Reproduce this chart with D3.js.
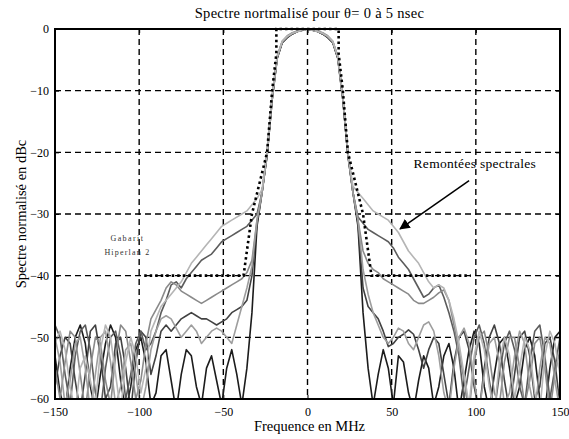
<!DOCTYPE html>
<html>
<head>
<meta charset="utf-8">
<script src="https://cdn.jsdelivr.net/npm/d3@7/dist/d3.min.js"></script>
<style>
body { margin: 0; background: #fff; }
svg { font-family: "Liberation Serif", "DejaVu Serif", serif; }
.grid line { stroke: #000; stroke-width: 1.4px; stroke-dasharray: 6,4; }
.axis path { display: none; }
.axis line { stroke: #000; }
.axis text { font-size: 12px; fill: #000; font-family: "Liberation Serif", serif; }
</style>
</head>
<body>
<div id="chart"></div>
<script>
// sample frequencies (MHz), one every 3 MHz
var freqs = d3.range(-150, 151, 3);
var xTicks = [-150, -100, -50, 0, 50, 100, 150];
var yTicks = [0, -10, -20, -30, -40, -50, -60];

// spectra for theta = 0..5 nsec, dBc
var spectrumA = [-51,-49,-52,-58,-62,-55,-53,-57,-61,-52,-48,-50,-56,-62,-54,-50,-53,-59,-55,-49,
  -47,-45,-44,-43,-42,-41,-39.5,-38,-37,-36,-35,-34,-33,-32,-31.5,-31,-30.5,-30,-29.5,-28.5,
  -27.5,-26,-20,-11,-4.5,-2,-1.2,-0.7,-0.4,-0.2,0,-0.2,-0.4,-0.7,-1.2,-2,-4.5,-11,-20,-25.5,
  -26.5,-27.5,-28.5,-29.5,-30,-30.5,-31,-32,-33,-34.5,-36,-37,-38,-39.5,-41,-42,-41.5,-42,-44,-47,
  -51,-56,-61,-53,-49,-52,-58,-62,-54,-50,-53,-60,-55,-50,-52,-59,-62,-53,-49,-51,-56];
var spectrumB = [-48,-50,-56,-61,-53,-49,-48,-52,-59,-62,-55,-50,-49,-53,-60,-56,-51,-49,-52,-51,
  -49,-46,-44,-41.5,-41,-42,-40.5,-39.5,-38.5,-37.5,-37,-36.5,-35.5,-34.5,-34,-33.5,-33,-32.5,-32,-31,
  -30,-26.5,-20,-11,-4.6,-2.1,-1.3,-0.7,-0.4,-0.2,0,-0.2,-0.4,-0.8,-1.3,-2.1,-4.6,-11,-20,-26.5,
  -30.5,-31.5,-32.5,-33,-33.5,-34,-34.5,-35.5,-37,-38,-39,-40.5,-42,-43.5,-43,-42,-41.5,-43.5,-46,-49,
  -53,-60,-55,-50,-48,-51,-57,-62,-56,-51,-49,-52,-58,-61,-54,-49,-48,-53,-60,-55,-50];
var spectrumC = [-55,-60,-54,-49,-50,-56,-62,-55,-50,-51,-57,-61,-53,-48,-49,-54,-60,-57,-51,-47,
  -45.5,-44,-42,-41,-41.5,-42.5,-43,-43.5,-44,-44.5,-44,-43.5,-43,-42.5,-42,-41.5,-41,-40.5,-39.5,-37.5,
  -31,-26.5,-20,-11,-4.4,-2,-1.1,-0.6,-0.3,-0.1,0,-0.1,-0.3,-0.6,-1.1,-2,-4.4,-11,-20,-26.5,
  -31,-36,-38,-39,-39.5,-40.5,-41,-41.5,-42,-42.5,-43,-44,-44.5,-44.5,-44,-43.5,-42.8,-42.3,-44,-48,
  -52,-57,-62,-54,-50,-49,-53,-59,-61,-54,-50,-50,-55,-61,-57,-51,-50,-55,-62,-56,-52];
var spectrumD = [-58,-53,-50,-51,-57,-62,-56,-49,-48,-53,-60,-58,-51,-50,-55,-62,-54,-49,-50,-56,
  -53,-49,-48,-49,-48,-47,-46.5,-46,-46.5,-47,-47,-47.5,-48,-47.5,-47,-46,-45.5,-45,-44,-40,
  -31.5,-26.5,-20.5,-11.5,-4.7,-2.2,-1.3,-0.8,-0.4,-0.2,0,-0.2,-0.4,-0.8,-1.3,-2.2,-4.7,-11.5,-20.5,-26.5,
  -31.5,-42,-45,-46,-47,-49,-51.5,-51,-50,-49.5,-48.8,-49.5,-52,-55,-52,-50,-51,-56,-61,-54,
  -50,-49,-52,-58,-62,-55,-50,-48,-51,-57,-62,-56,-50,-49,-53,-60,-58,-51,-50,-54,-61];
var spectrumE = [-53,-59,-62,-55,-50,-48,-51,-58,-62,-56,-51,-48,-50,-57,-62,-58,-52,-50,-54,-61,
  -59,-53,-52,-57,-62,-56,-52,-53,-58,-61,-55,-53,-57,-61,-55,-52,-56,-61,-55,-46,
  -32,-26.5,-20.5,-11.5,-4.8,-2.2,-1.4,-0.8,-0.4,-0.2,0,-0.2,-0.4,-0.8,-1.4,-2.2,-4.8,-11.5,-20.5,-26.5,
  -32,-46,-55,-61,-56,-52,-55,-61,-53,-54,-59,-62,-57,-53,-55,-61,-58,-53,-51,-55,
  -62,-57,-52,-49,-51,-58,-62,-56,-51,-50,-55,-61,-58,-52,-50,-53,-60,-62,-55,-50,-49];
var spectrumF = [-50,-54,-61,-57,-51,-50,-55,-62,-56,-50,-49,-54,-61,-58,-52,-51,-56,-62,-58,-52,
  -49,-47,-46.5,-47,-48.5,-50,-49,-48,-49,-51,-50,-49,-48.5,-49,-50,-51,-48,-45,-42,-38.5,
  -31,-26.5,-20,-11,-4.5,-2,-1.2,-0.7,-0.4,-0.2,0,-0.2,-0.4,-0.7,-1.2,-2,-4.5,-11,-20,-26.5,
  -31,-39,-43,-46,-48,-50,-51,-50,-48.5,-49,-51,-52,-50,-48,-47.5,-49,-53,-59,-62,-55,
  -50,-48.5,-51,-57,-62,-56,-51,-50,-54,-61,-59,-53,-49,-51,-58,-62,-55,-50,-51,-57,-62];

var seriesNames = ["0 ns", "1 ns", "3 ns", "2 ns", "4 ns", "5 ns"];
var seriesColors = ["#1c1c1c", "#424242", "#5c5c5c", "#8a8a8a", "#9e9e9e", "#b5b5b5"];

// Hiperlan 2 mask
var maskFreq = [-97, -38, -36, -33, -24, -21, -18.5, -18.5, 18.5, 18.5, 21, 24, 33, 36, 38, 97];
var maskDb = [-40, -40, -36, -30, -20, -10, -4, 0, 0, -4, -10, -20, -30, -36, -40, -40];

function buildSpectrum(section_id) {
    var margin = {top: 29, right: 9, bottom: 40, left: 55};
    var width = 569 - margin.left - margin.right,
        height = 439 - margin.top - margin.bottom;

    var xScale = d3.scaleLinear().domain([-150, 150]).range([0, width]);
    var yScale = d3.scaleLinear().domain([-60, 0]).range([height, 0]);

    var root = d3.select(section_id).append("svg")
        .attr("width", 569)
        .attr("height", 439);
    var svg = root.append("g")
        .attr("transform", "translate(" + margin.left + "," + margin.top + ")");

    svg.append("clipPath").attr("id", "plotclip")
        .append("rect").attr("width", width).attr("height", height);

    // dashed grid
    svg.append("g").attr("class", "grid")
        .selectAll("line").data(xTicks.slice(1, -1)).enter().append("line")
        .attr("x1", function(d) { return xScale(d); })
        .attr("x2", function(d) { return xScale(d); })
        .attr("y1", 0).attr("y2", height);
    svg.append("g").attr("class", "grid")
        .selectAll("line").data(yTicks.slice(1, -1)).enter().append("line")
        .attr("x1", 0).attr("x2", width)
        .attr("y1", function(d) { return yScale(d); })
        .attr("y2", function(d) { return yScale(d); });

    // darkest drawn first so the lighter traces stay visible on top
    var series = [spectrumE, spectrumD, spectrumB, spectrumC, spectrumF, spectrumA].map(function(vals, i) {
        return {
            id: seriesNames[i],
            color: seriesColors[i],
            values: vals.map(function(v, j) { return {f: freqs[j], db: v}; })
        };
    });

    var line = d3.line()
        .x(function(d) { return xScale(d.f); })
        .y(function(d) { return yScale(d.db); });

    var curves = svg.append("g").attr("clip-path", "url(#plotclip)");
    curves.selectAll(".trend")
        .data(series)
        .enter().append("path")
        .attr("class", "trend")
        .attr("d", function(d) { return line(d.values); })
        .style("fill", "none")
        .style("stroke", function(d) { return d.color; })
        .style("stroke-width", "1.6px")
        .style("stroke-linejoin", "round");

    // mask, thick dotted
    var mask = maskFreq.map(function(f, i) { return {f: f, db: maskDb[i]}; });
    svg.append("path")
        .attr("d", line(mask))
        .style("fill", "none")
        .style("stroke", "#000")
        .style("stroke-width", "2.6px")
        .style("stroke-dasharray", "2.5,3");

    // axes with inward ticks
    svg.append("g").attr("class", "axis")
        .attr("transform", "translate(0," + height + ")")
        .call(d3.axisBottom(xScale).tickValues(xTicks).tickSize(-4).tickPadding(8).tickFormat(d3.format("d")));
    svg.append("g").attr("class", "axis")
        .call(d3.axisTop(xScale).tickValues(xTicks).tickSize(-4).tickFormat(""));
    svg.append("g").attr("class", "axis")
        .call(d3.axisLeft(yScale).tickValues(yTicks).tickSize(-4).tickPadding(6).tickFormat(d3.format("d")));
    svg.append("g").attr("class", "axis")
        .attr("transform", "translate(" + width + ",0)")
        .call(d3.axisRight(yScale).tickValues(yTicks).tickSize(-4).tickFormat(""));

    // frame
    svg.append("rect")
        .attr("width", width).attr("height", height)
        .style("fill", "none").style("stroke", "#000").style("stroke-width", "2px");

    // labels
    root.append("text")
        .attr("x", margin.left + xScale(0) + 2).attr("y", 18)
        .attr("text-anchor", "middle")
        .style("font-size", "14.5px").style("letter-spacing", "0.3px")
        .text("Spectre nortmalisé pour θ= 0 à 5 nsec");
    root.append("text")
        .attr("x", margin.left + xScale(0) + 2).attr("y", 431)
        .attr("text-anchor", "middle")
        .style("font-size", "14.5px")
        .text("Frequence en MHz");
    root.append("text")
        .attr("transform", "translate(26," + (margin.top + height / 2) + ") rotate(-90)")
        .attr("text-anchor", "middle")
        .style("font-size", "14.5px")
        .text("Spectre normalisé en dBc");

    svg.append("text")
        .attr("x", xScale(-107)).attr("y", yScale(-34.3))
        .attr("text-anchor", "middle")
        .style("font-size", "8px").style("letter-spacing", "1.4px").style("fill", "#333")
        .text("Gabarit");
    svg.append("text")
        .attr("x", xScale(-107)).attr("y", yScale(-36.7))
        .attr("text-anchor", "middle")
        .style("font-size", "8px").style("letter-spacing", "1.2px").style("fill", "#333")
        .text("Hiperlan 2");

    svg.append("defs").append("marker")
        .attr("id", "arrowhead")
        .attr("viewBox", "0 0 10 10")
        .attr("refX", 9).attr("refY", 5)
        .attr("markerWidth", 7).attr("markerHeight", 7)
        .attr("orient", "auto")
        .append("path").attr("d", "M0,0 L10,5 L0,10 Z").style("fill", "#000");

    svg.append("text")
        .attr("x", xScale(63)).attr("y", yScale(-22.6))
        .style("font-size", "13.5px").style("letter-spacing", "0.3px")
        .text("Remontées spectrales");
    svg.append("line")
        .attr("x1", xScale(96)).attr("y1", yScale(-24.6))
        .attr("x2", xScale(55)).attr("y2", yScale(-32.4))
        .style("stroke", "#000").style("stroke-width", "1.5px")
        .attr("marker-end", "url(#arrowhead)");
}

buildSpectrum("#chart");
</script>
</body>
</html>
